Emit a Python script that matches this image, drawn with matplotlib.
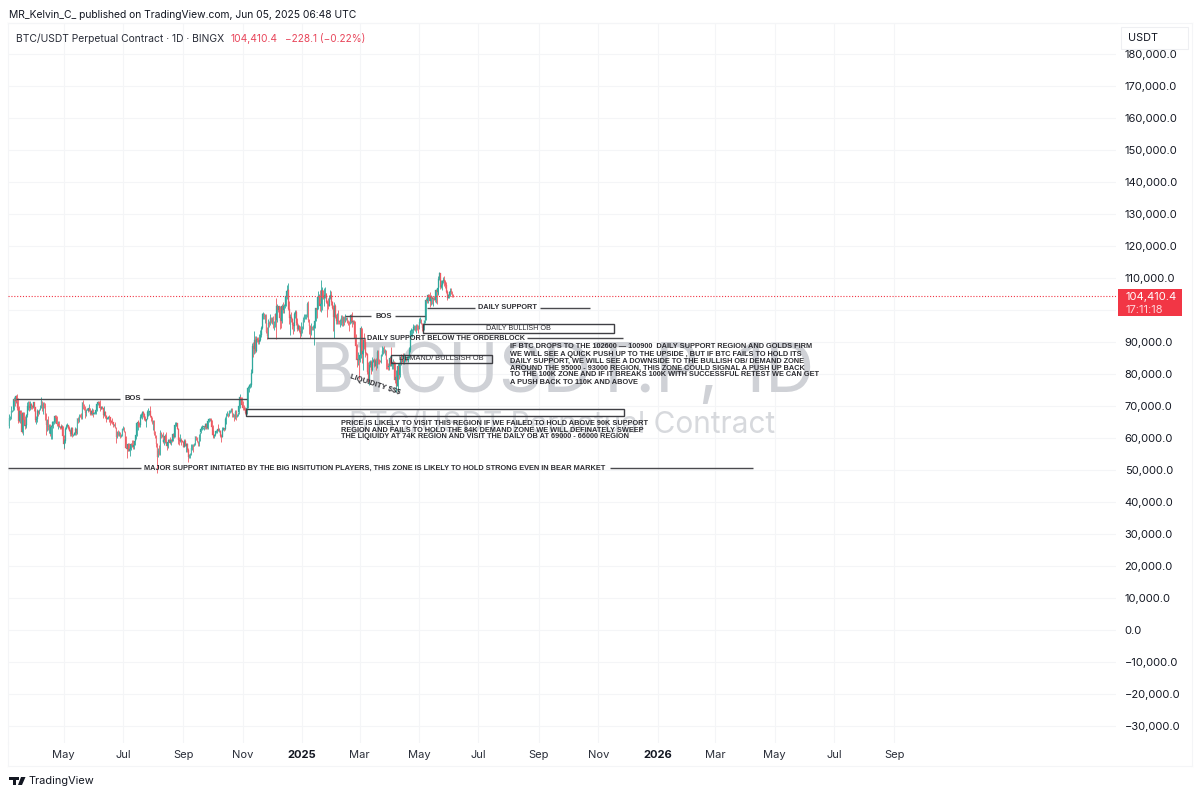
import numpy as np
import pandas as pd
import matplotlib
matplotlib.use("Agg")
import matplotlib.pyplot as plt
import matplotlib.dates as mdates
from matplotlib.patches import Rectangle, Polygon
from matplotlib.lines import Line2D

plt.rcParams['font.family'] = ['Inter', 'DejaVu Sans']

FIRST_OPEN = 63.8
closes = [
 66.1,66.9,68.3,68.5,69.0,72.1,71.5,73.1,71.4,69.4,65.3,68.4,67.6,62.0,67.9,65.5,63.8,64.0,67.2,69.9,69.9,69.5,70.7,69.9,69.6,71.3,
 69.7,65.5,65.9,68.5,67.8,68.9,69.4,71.6,69.1,70.6,70.0,67.2,64.0,65.7,63.4,63.8,61.3,63.5,63.8,64.9,64.9,66.8,66.4,64.3,64.5,63.8,63.4,63.1,63.8,60.6,
 58.2,59.1,62.9,63.9,64.0,63.2,62.3,61.2,63.0,60.8,60.8,61.5,62.9,61.5,66.2,65.2,67.0,66.9,66.3,71.4,70.1,69.2,67.9,68.5,69.3,68.5,69.4,68.4,67.6,68.4,67.5,
 67.8,67.8,68.8,70.6,71.1,70.8,69.4,69.3,69.6,69.5,67.3,68.2,66.8,66.0,66.2,66.7,66.5,65.2,65.0,64.9,64.1,64.3,63.2,60.3,61.8,60.9,61.6,60.3,60.9,62.7,
 62.9,62.0,60.2,57.0,56.7,58.2,55.9,56.7,58.0,57.7,57.3,57.9,59.2,60.8,64.8,65.1,64.1,64.0,66.7,67.2,68.2,67.6,65.9,65.4,65.8,68.0,68.0,68.3,66.8,66.2,64.6,
 65.4,61.4,60.7,58.1,54.0,56.0,55.1,61.7,60.9,60.9,58.7,59.3,60.6,58.7,57.5,58.9,59.5,58.4,59.5,59.0,61.2,60.4,64.1,64.2,64.6,62.9,59.5,59.0,59.4,59.1,58.9,
 57.3,59.1,57.5,58.0,56.2,54.0,54.8,54.9,57.0,57.6,57.3,58.1,60.5,60.0,59.1,58.2,60.3,61.8,62.9,63.2,63.3,63.6,63.3,64.3,63.1,65.2,65.8,65.9,65.6,63.3,
 60.8,60.6,60.8,62.1,62.1,62.8,62.2,62.2,60.6,60.3,62.5,63.2,62.9,66.0,67.0,67.6,67.4,68.4,68.4,69.0,67.4,67.4,66.7,68.2,66.6,67.0,68.0,69.9,72.7,72.3,70.3,
 69.5,69.4,68.8,67.8,69.4,75.6,75.9,76.5,76.7,80.4,88.7,87.9,90.5,87.3,91.0,90.6,89.9,90.5,92.3,94.3,98.9,98.9,97.7,98.0,93.0,91.9,95.9,95.6,97.4,96.4,
 97.2,95.9,96.0,98.8,97.0,101.2,99.9,101.1,97.4,96.6,101.1,100.0,101.4,101.4,104.3,106.0,106.1,100.2,97.5,97.8,97.3,95.2,94.9,98.7,99.4,95.8,94.2,95.1,93.5,92.6,93.4,
 94.4,96.9,98.1,98.2,98.3,102.0,96.9,95.0,92.5,94.7,94.5,94.5,94.5,96.5,100.5,99.9,104.1,104.4,101.2,102.0,106.1,103.7,103.9,104.8,104.7,102.6,102.0,101.3,103.7,104.7,102.4,
 100.6,97.7,101.4,97.9,96.6,96.6,96.5,96.4,96.5,97.4,95.8,97.9,96.6,97.5,97.6,96.2,95.8,95.6,96.6,98.3,96.1,96.6,96.3,91.4,88.7,84.3,84.7,84.4,
 86.0,94.3,86.1,87.2,90.6,89.9,86.7,86.1,80.7,78.5,82.9,83.7,81.1,83.9,84.3,82.6,84.0,82.7,86.8,84.2,84.0,83.7,86.0,87.2,87.5,86.9,87.2,84.3,82.4,82.3,82.5,
 85.1,82.5,83.1,83.8,83.5,78.2,79.2,76.3,82.6,79.6,83.4,85.3,83.7,84.5,83.6,84.0,84.9,84.5,85.1,85.1,87.5,93.4,93.7,93.9,94.7,94.7,93.7,95.0,94.3,94.2,
 96.4,96.9,95.8,94.3,94.8,96.8,97.0,103.2,102.9,104.6,104.1,102.8,104.1,103.5,103.7,103.5,103.1,106.4,105.6,106.8,109.6,111.7,107.3,107.8,109.0,109.4,108.9,107.8,105.6,103.9,104.6,
 105.7,105.9,105.4,104.7,104.41]
highs = [
 67.6,67.0,69.9,68.7,70.0,72.8,72.9,73.5,73.7,72.4,70.0,68.9,68.9,68.1,68.0,68.2,66.8,65.7,67.6,71.4,71.5,71.5,71.5,71.0,70.3,71.3,
 71.3,69.7,66.9,69.2,68.6,69.0,70.3,72.7,71.7,71.1,71.2,70.9,67.8,65.8,66.8,64.4,64.4,64.1,65.4,65.3,65.6,67.1,67.2,67.0,65.2,65.2,63.9,64.4,64.2,63.8,
 60.8,59.6,63.3,64.5,64.6,64.0,63.8,62.9,63.4,63.4,61.4,61.8,63.4,63.1,66.4,66.7,67.4,67.4,67.7,71.4,71.9,70.6,70.0,69.2,69.5,69.5,70.6,69.5,68.9,69.5,69.0,
 68.0,68.4,70.2,71.1,71.7,71.6,71.9,69.6,69.9,70.1,69.5,70.0,68.4,67.3,66.7,67.0,67.2,66.5,65.7,66.3,65.0,64.5,64.9,63.3,62.3,62.4,62.2,62.0,61.2,63.0,
 63.8,63.3,62.3,60.5,57.7,58.4,58.3,58.1,58.3,59.3,59.3,58.5,59.7,61.2,64.9,65.3,65.6,65.1,67.4,67.8,68.3,68.4,67.7,67.0,66.0,68.9,69.4,68.3,69.9,66.9,66.7,
 65.5,65.6,62.1,61.0,58.3,57.0,57.7,62.5,61.8,61.4,61.8,60.5,61.4,61.8,58.9,59.8,59.7,60.3,59.6,61.4,61.7,61.3,64.9,64.5,65.0,64.5,63.2,60.2,61.2,59.9,59.4,
 59.0,59.8,59.8,58.5,58.3,56.9,54.9,55.3,58.0,58.0,58.0,58.5,60.6,60.6,60.4,59.2,61.3,61.8,63.8,64.0,63.5,63.9,64.7,64.6,64.8,65.8,66.4,66.2,66.1,65.7,
 64.1,62.4,61.4,62.3,62.4,62.9,64.4,63.2,62.5,61.3,63.4,63.4,63.2,66.5,67.9,68.4,67.9,68.9,68.7,69.4,69.5,67.8,67.5,68.8,68.7,67.4,68.2,70.2,73.6,72.9,72.7,
 71.6,70.4,69.6,69.5,70.6,76.4,76.9,77.3,77.2,81.5,89.6,89.9,93.5,91.8,91.8,91.6,91.7,92.6,93.9,94.9,99.0,99.5,99.0,98.8,98.9,94.7,97.2,96.6,98.7,97.8,
 97.8,98.2,96.5,99.2,103.9,102.0,101.0,101.4,101.3,98.3,101.9,102.5,101.9,102.6,105.1,107.8,108.3,106.5,102.8,98.9,99.5,97.4,96.4,99.4,99.9,99.9,97.4,95.7,95.4,94.9,96.2,
 94.9,97.8,98.9,98.7,98.8,102.5,102.7,97.2,95.3,95.8,95.0,95.4,95.8,97.3,100.6,100.8,105.9,105.0,106.3,109.4,107.1,106.3,106.8,107.1,105.3,105.4,103.0,103.7,104.8,106.4,106.0,
 102.7,101.5,102.5,102.0,98.8,99.1,100.1,96.9,97.3,98.3,98.5,98.1,98.0,98.8,97.9,97.7,97.0,96.7,96.9,98.6,99.5,96.9,96.8,96.5,92.5,89.3,87.0,85.1,
 86.6,95.0,94.4,88.9,91.0,92.8,91.3,86.9,86.5,83.8,84.0,84.3,84.3,85.2,84.7,85.0,84.7,84.9,87.4,87.4,84.8,84.4,86.3,88.7,88.5,88.7,87.8,87.5,84.6,83.5,83.9,
 85.5,88.5,83.9,84.7,84.2,83.8,81.2,80.9,83.5,82.7,84.3,85.9,86.1,85.8,86.5,86.5,85.4,85.4,85.6,86.0,88.5,93.8,94.5,94.0,95.7,95.3,95.3,95.6,95.5,95.2,
 97.4,97.9,97.2,96.0,95.9,96.9,97.7,103.6,104.0,104.9,104.9,105.7,104.8,104.4,104.1,104.5,103.7,106.7,107.0,107.1,110.7,111.9,111.7,109.5,109.3,110.3,110.7,109.3,108.9,106.3,105.0,
 105.8,106.8,106.8,106.0,105.0]
lows = [
 63.2,65.5,65.9,68.0,68.5,68.7,70.0,71.0,68.7,64.6,65.0,64.6,66.7,61.5,61.0,64.6,62.8,63.2,63.6,66.6,68.8,68.4,68.9,69.2,69.1,69.5,
 68.3,65.0,64.5,65.1,67.0,67.6,68.8,69.3,68.3,67.5,69.5,65.5,61.0,62.3,62.4,61.7,60.7,59.8,59.7,63.1,64.5,64.6,65.9,63.7,62.9,63.3,62.8,62.7,62.1,59.6,
 56.6,56.9,58.5,62.7,63.5,62.9,62.2,60.7,60.7,60.2,60.5,60.8,60.8,60.8,61.3,64.6,65.0,66.6,65.9,66.0,69.2,68.9,66.3,66.9,68.6,68.2,68.3,67.2,67.1,67.2,66.7,
 67.4,67.4,67.6,68.5,70.4,70.1,68.5,69.2,69.2,69.2,66.1,66.9,66.2,65.1,65.9,66.0,65.1,64.1,64.7,64.5,63.4,63.9,63.0,58.4,60.0,60.6,60.6,59.9,60.3,60.6,
 62.5,61.8,59.5,56.8,53.6,55.8,55.8,54.3,56.3,57.2,56.6,56.6,57.7,59.6,60.7,62.4,63.4,63.3,63.4,66.4,65.9,66.6,65.5,65.2,63.5,65.8,66.9,67.2,66.6,65.3,64.4,
 62.5,61.0,59.9,57.2,49.0,54.0,54.7,54.7,60.0,60.4,58.5,57.7,58.5,58.5,56.1,56.9,58.8,58.2,57.9,58.6,59.0,59.9,60.4,63.7,63.6,62.8,58.1,57.9,58.8,57.9,58.8,
 57.2,57.1,57.4,55.6,55.7,52.6,53.8,53.7,54.6,56.4,55.6,57.4,57.7,59.5,58.8,57.5,57.6,59.2,61.7,62.4,62.8,62.4,62.7,62.7,62.7,62.7,65.0,65.4,65.0,62.9,
 60.2,60.0,59.9,60.5,61.7,61.7,62.1,61.9,60.4,58.9,60.4,62.5,62.1,62.5,64.5,66.9,66.7,67.0,67.9,68.0,66.7,66.6,65.3,66.0,65.6,66.5,66.8,67.6,69.5,71.5,69.7,
 68.8,68.9,67.5,66.9,67.5,69.5,74.5,75.7,76.0,76.5,80.2,85.2,86.3,86.7,87.0,90.0,89.3,89.4,90.4,91.7,94.0,97.2,97.2,95.8,92.7,90.8,91.1,94.7,95.3,96.0,
 95.7,94.5,93.6,94.7,91.0,96.4,99.5,98.7,94.2,94.3,95.8,99.2,99.2,100.6,101.2,103.4,105.3,100.0,95.6,92.2,96.4,94.2,92.5,93.4,97.6,95.2,93.5,93.8,93.0,91.4,92.0,
 92.8,94.2,96.2,97.3,97.3,97.9,96.2,92.6,91.3,92.2,93.8,93.7,89.2,94.3,96.5,97.4,100.3,102.4,99.6,99.5,100.1,103.3,101.2,103.9,104.1,102.1,97.9,100.3,101.3,103.3,101.6,
 100.3,93.4,91.2,97.5,95.7,95.7,95.7,95.7,94.8,95.3,94.9,94.9,95.3,96.2,97.0,96.0,95.2,93.4,95.5,96.0,94.8,95.7,95.2,91.2,86.1,82.2,82.8,78.3,
 83.8,85.0,83.5,81.4,86.3,87.8,85.2,85.8,80.1,77.4,76.6,82.2,79.9,80.8,83.9,82.1,82.5,81.1,82.0,83.2,83.2,83.6,83.3,85.5,86.3,86.5,85.9,81.6,81.6,81.3,81.3,
 82.4,82.4,81.6,81.7,82.4,77.2,74.5,76.2,74.6,78.4,79.0,82.8,83.1,83.9,83.1,83.1,84.0,84.1,84.5,83.9,85.1,87.0,91.9,91.7,92.9,93.9,93.5,92.9,93.7,92.9,
 94.1,96.0,95.6,93.5,93.4,93.8,95.9,96.8,102.2,102.3,103.2,100.8,101.5,102.0,101.4,103.0,102.6,102.1,102.0,104.8,105.0,109.4,106.7,106.8,106.3,108.5,107.5,106.8,105.4,103.1,103.6,
 103.9,104.4,105.0,104.2,104.2]

price_ticks = list(range(-30000, 180001, 10000))
time_ticks = ["2024-05-01","2024-07-01","2024-09-01","2024-11-01","2025-01-01","2025-03-01",
              "2025-05-01","2025-07-01","2025-09-01","2025-11-01","2026-01-01","2026-03-01",
              "2026-05-01","2026-07-01","2026-09-01"]
time_labels = ["May","Jul","Sep","Nov","2025","Mar","May","Jul","Sep","Nov","2026","Mar","May","Jul","Sep"]
last_price = 104410.4

W, H = 1200, 797
L, R, T, B = 8, 1116, 23, 743
UP, DOWN = "#2fa89c", "#ee5a62"
INK = "#131722"
GRID = "#f4f5f7"
NOTE = "#2e2e33"

fig = plt.figure(figsize=(W/100, H/100), dpi=100, facecolor="white")
ax = fig.add_axes([L/W, 1-B/H, (R-L)/W, (B-T)/H])
ax.set_facecolor("white")

# pixel <-> data scales of the TradingView pane
def X(px):
    return mdates.date2num(pd.Timestamp("2024-05-01")) + (px-63.5)/0.974
def Y(py):
    return (630-py)/0.0032

ax.set_xlim(X(L), X(R))
ax.set_ylim(Y(B), Y(T))

dates = mdates.date2num(pd.date_range("2024-03-06", periods=len(closes), freq="D"))
c = np.array(closes)*1000
hi = np.array(highs)*1000
lo = np.array(lows)*1000
o = np.r_[FIRST_OPEN*1000, c[:-1]]
colors = [UP if a >= b else DOWN for a, b in zip(c, o)]

ax.vlines(dates, lo, hi, colors=colors, lw=0.6, zorder=3)
ax.bar(dates, np.abs(c-o), bottom=np.minimum(o, c), width=0.7, color=colors, lw=0.2, edgecolor=colors, zorder=3)

ax.yaxis.tick_right()
ax.set_yticks(price_ticks)
ax.set_yticklabels([f"{v:,.1f}".replace("-", "\u2212") for v in price_ticks], ha="left", fontsize=8.0, color=INK)
ax.set_xticks(mdates.date2num(pd.to_datetime(time_ticks)))
ax.set_xticklabels(time_labels, fontsize=8.0, color="#2a2e39")
for t in ax.get_xticklabels():
    if t.get_text().startswith("20"):
        t.set_fontweight("bold"); t.set_color(INK)
ax.tick_params(axis="y", length=0, pad=6.2)
ax.tick_params(axis="x", length=0, pad=5.2)
ax.grid(True, color=GRID, lw=0.8, zorder=0)
ax.set_axisbelow(True)
ax.spines["right"].set_visible(False)
ax.spines["bottom"].set_visible(False)
for s in ax.spines.values():
    s.set_color(GRID); s.set_linewidth(0.8)

# watermark
ax.text(X(562.5), Y(374), "BTCUSDT.P, 1D", fontsize=49, color="#cfd1d6", ha="center", va="center", zorder=1)
ax.text(X(562.5), Y(424), "BTC/USDT Perpetual Contract", fontsize=21.5, color="#d7d9dd", ha="center", va="center", zorder=1)

# last price line
ax.axhline(last_price, color="#f23645", lw=0.8, ls=(0, (1, 1.6)), zorder=4)

def seg(x0, x1, py, lw=1.0):
    ax.plot([X(x0), X(x1)], [Y(py), Y(py)], color="#4a4a4e", lw=lw, solid_capstyle="butt", zorder=5)
def note(px, py, s, size=5.3, ha="left", weight="bold", rot=0, color=NOTE):
    ax.text(X(px), Y(py), s, fontsize=size, fontweight=weight, ha=ha, va="center", color=color,
            rotation=rot, rotation_mode="anchor", zorder=6, family=["Liberation Sans", "DejaVu Sans"])
def box(x0, x1, y0, y1):
    ax.add_patch(Rectangle((X(x0), Y(y1)), X(x1)-X(x0), Y(y0)-Y(y1), fill=False, ec="#3f3f44", lw=1.0, zorder=5))

seg(16, 120, 398.5); note(132.5, 398.5, "BOS", ha="center", size=5.5)
seg(143, 247, 398.5)
seg(8, 141, 468); note(144, 468, "MAJOR SUPPORT INITIATED BY THE BIG INSITUTION PLAYERS, THIS ZONE IS LIKELY TO HOLD STRONG EVEN IN BEAR MARKET", size=5.35)
seg(610, 753, 468)
box(246, 624, 409, 416.3)
seg(267, 365, 338); note(367, 338, "DAILY SUPPORT BELOW THE ORDERBLOCK", size=5.2); seg(527, 623, 338)
seg(345, 371, 316); note(384, 316, "BOS", ha="center", size=5.5); seg(395, 425, 316)
seg(427, 475, 307.5); note(478, 307.5, "DAILY SUPPORT", size=5.35); seg(540, 590, 307.5)
box(423, 614, 324, 332.5); note(518, 328.5, "DAILY BULLISH OB", ha="center", weight="normal", size=5.2)
box(391, 492, 355, 363); note(399, 359, "DEMAND/ BULLSISH OB", weight="normal", size=5.3)
note(350, 377, "LIQUIDITY $$$", rot=-18, size=5.5)

para1 = ["IF BTC DROPS TO THE 102600 \u2014 100900  DAILY SUPPORT REGION AND GOLDS FIRM",
         "WE WILL SEE A QUICK PUSH UP TO THE UPSIDE , BUT IF BTC FAILS TO HOLD ITS",
         "DAILY SUPPORT, WE WILL SEE A DOWNSIDE TO THE BULLISH OB/ DEMAND ZONE",
         "AROUND THE 95000 - 93000 REGION, THIS ZONE COULD SIGNAL A PUSH UP BACK",
         "TO THE 100K ZONE AND IF IT BREAKS 100K WITH SUCCESSFUL RETEST WE CAN GET",
         "A PUSH BACK TO 110K AND ABOVE"]
for s, py in zip(para1, [347, 354, 361, 368, 375, 382]):
    note(510, py, s, size=5.35)
para2 = ["PRICE IS LIKELY TO VISIT THIS REGION IF WE FAILED TO HOLD ABOVE 90K SUPPORT",
         "REGION AND FAILS TO HOLD THE 84K DEMAND ZONE WE WILL DEFINATELY SWEEP",
         "THE LIQIUIDY AT 74K REGION AND VISIT THE DAILY OB AT 69000 - 66000 REGION"]
for s, py in zip(para2, [423.5, 430, 437]):
    note(341, py, s, size=5.3)

# figure-level furniture, in pixel positions
def fx(px): return px/W
def fy(py): return 1-py/H
def ftext(px, py, s, **kw):
    kw.setdefault("va", "center"); kw.setdefault("fontsize", 8.0); kw.setdefault("color", INK)
    return fig.text(fx(px), fy(py), s, **kw)

for (x0, y0, x1, y1) in [(8, 766, 1192, 766), (1192, 23, 1192, 766), (8, 743, 8, 766), (8, 23, 1192, 23)]:
    fig.add_artist(Line2D([fx(x0), fx(x1)], [fy(y0), fy(y1)], color=GRID, lw=0.8))

ftext(9, 15, "MR_Kelvin_C_ published on TradingView.com, Jun 05, 2025 06:48 UTC", fontsize=7.45)
ftext(16, 39, "BTC/USDT Perpetual Contract \u00b7 1D \u00b7 BINGX", fontsize=7.45, color="#2a2e39")
ftext(231, 39, "104,410.4", fontsize=7.4, color="#e8455a")
ftext(285, 39, "\u2212228.1 (\u22120.22%)", fontsize=7.25, color="#e8455a")

fig.add_artist(Rectangle((fx(1121), fy(49)), 67/W, 22/H, transform=fig.transFigure, fc="white", ec="#eeeff2", lw=0.8, zorder=8))
ftext(1128, 38, "USDT", fontsize=7.8, zorder=9)

fig.add_artist(Rectangle((fx(1118), fy(316)), 64/W, 27/H, transform=fig.transFigure, fc="#f23645", ec="none", zorder=8))
ftext(1125, 296.5, "104,410.4", fontsize=8.0, color="white", zorder=9)
ftext(1125, 309.5, "17:11:18", fontsize=8.0, color="#ffd5da", zorder=9)

# TradingView logo
def P(pts): return [(fx(a), fy(b)) for a, b in pts]
fig.add_artist(Polygon(P([(8.5,777),(15.5,777),(15.5,785),(12.5,785),(12.5,780),(8.5,780)]), closed=True, transform=fig.transFigure, fc=INK, ec="none"))
fig.add_artist(Polygon(P([(21,777),(25.5,777),(22,785),(18,785)]), closed=True, transform=fig.transFigure, fc=INK, ec="none"))
fig.add_artist(Polygon(P([(16.3,777),(19,777),(19,779.8),(16.3,779.8)]), closed=True, transform=fig.transFigure, fc=INK, ec="none"))
ftext(29, 781, "TradingView", fontsize=7.9)

fig.savefig("out.png", dpi=100)
